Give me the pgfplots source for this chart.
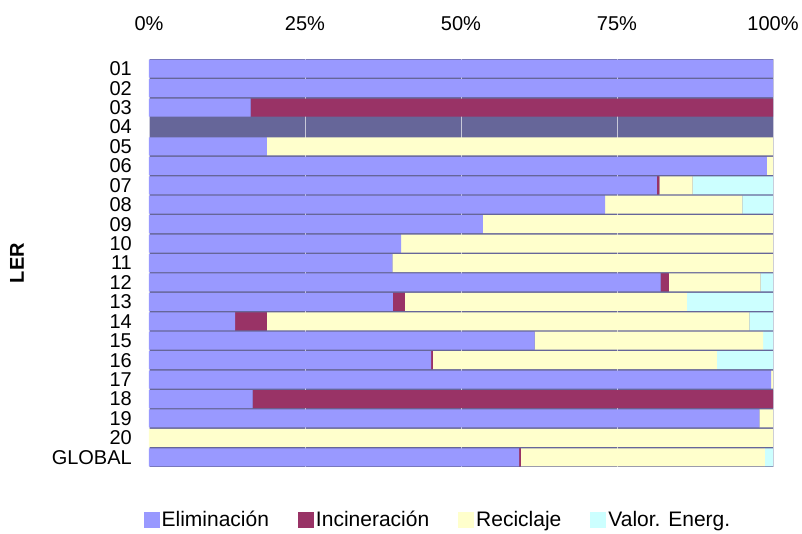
\documentclass[border=0pt]{standalone}
\usepackage{pgfplots}
\pgfplotsset{compat=1.18}
\usepackage{pgfplotstable}
\usepackage{fontspec}
\setmainfont{Liberation Sans}
\definecolor{elim}{HTML}{9999FF}
\definecolor{incin}{HTML}{993366}
\definecolor{recic}{HTML}{FFFFCC}
\definecolor{valor}{HTML}{CCFFFF}
\definecolor{bgc}{HTML}{666699}
\definecolor{gridc}{HTML}{C8C8D8}

\pgfplotstableread{
idx elim incin recic valor
0  100  0    0    0
1  100  0    0    0
2  16.3 83.7 0    0
3  0    0    0    0
4  18.9 0    81.1 0
5  99.0 0    1.0  0
6  81.4 0.4  5.3  12.9
7  73.1 0    22.0 4.9
8  53.5 0    46.5 0
9  40.4 0    59.6 0
10 39.0 0    61.0 0
11 82.0 1.3  14.7 2.0
12 39.1 1.9  45.2 13.8
13 13.8 5.1  77.3 3.8
14 61.8 0    36.6 1.6
15 45.2 0.3  45.5 9.0
16 99.7 0    0.3  0
17 16.6 83.4 0    0
18 97.8 0    2.2  0
19 0    0    100  0
20 59.3 0.3  39.1 1.3
}\data

\begin{document}
\begin{tikzpicture}
\begin{axis}[
  scale only axis, width=624pt, height=408pt,
  xbar stacked, bar width=18pt,
  xmin=0, xmax=100, ymin=-0.5, ymax=20.5, y dir=reverse,
  axis background/.style={fill=bgc},
  axis line style={draw=none},
  major tick length=0pt,
  xtick={0,25,50,75,100},
  xticklabels={0\%,25\%,50\%,75\%,100\%},
  xticklabel pos=upper,
  xticklabel style={font=\fontsize{20}{22}\selectfont, inner sep=0pt, yshift=28pt},
  xmajorgrids, grid style={gridc, line width=0.9pt},
  ytick={0,...,20},
  yticklabels={01,02,03,04,05,06,07,08,09,10,11,12,13,14,15,16,17,18,19,20,GLOBAL},
  yticklabel style={font=\fontsize{20}{22}\selectfont, inner sep=0pt, xshift=-17pt},
  ylabel={LER},
  ylabel style={at={(axis description cs:0,0.5)}, anchor=center, yshift=132pt, font=\bfseries\fontsize{20}{22}\selectfont},
  legend style={draw=none, fill=none, legend columns=4, at={(axis description cs:0.463,0)}, anchor=center, yshift=-53pt, font=\fontsize{21}{23}\selectfont, /tikz/every even column/.append style={column sep=27pt}},
  legend cell align=left,
  legend image code/.code={\fill[#1,draw=none] (-3pt,-8pt) rectangle (13pt,8pt);},
]
\addplot[fill=elim, draw=none] table[x=elim, y=idx] {\data};
\addplot[fill=incin, draw=none] table[x=incin, y=idx] {\data};
\addplot[fill=recic, draw=none] table[x=recic, y=idx] {\data};
\addplot[fill=valor, draw=none] table[x=valor, y=idx] {\data};
\legend{Eliminación, Incineración, Reciclaje, Valor. Energ.}
\end{axis}
\pgfresetboundingbox
\path ([xshift=-149pt,yshift=-66pt]current axis.south west) rectangle ([xshift=29pt,yshift=59pt]current axis.north east);
\end{tikzpicture}
\end{document}
